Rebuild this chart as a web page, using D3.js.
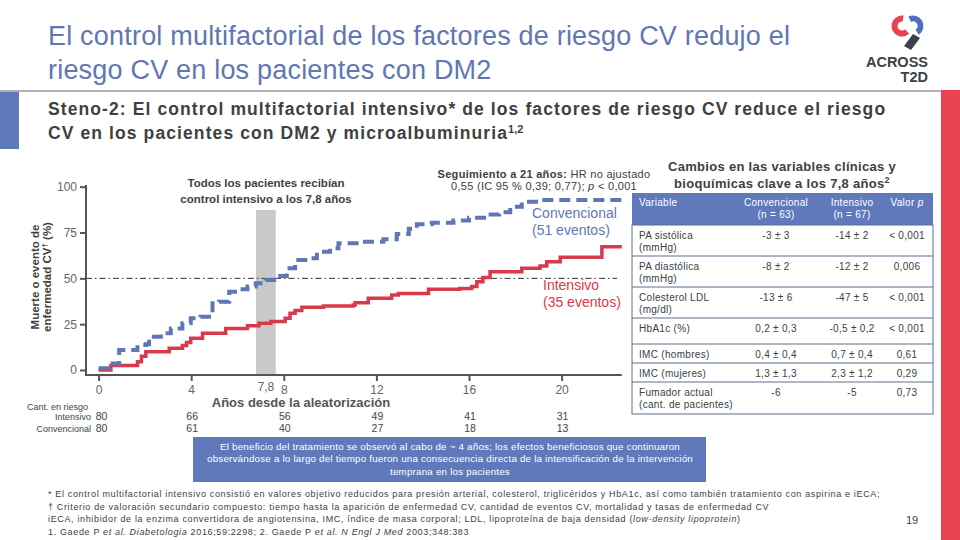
<!DOCTYPE html>
<html>
<head>
<meta charset="utf-8">
<script src="https://cdn.jsdelivr.net/npm/d3@7"></script>
<style>
    body { margin: 0; background: #fff; }
    svg { display: block; font-family: "Liberation Sans", Arial, sans-serif; }
</style>
</head>
<body>
<div id="chart"></div>
<script>
// Kaplan-Meier style step data (years since randomisation, % with event)
const convYears = [0, 0.45, 0.89, 1.68, 2.04, 2.18, 2.69, 3.12, 3.62, 3.98, 4.4, 4.77, 4.92, 5.2, 5.64, 6.0, 6.43, 6.79, 7.22, 7.58, 8.13, 8.49, 9.14, 9.43, 10.0, 10.36, 11.3, 12.3, 12.88, 13.4, 13.75, 14.39, 15.33, 16.0, 16.77, 17.3, 17.78, 18.28, 19.07, 22.6];
const convPct = [0.9, 3.6, 10.9, 13.6, 14, 18.2, 20, 22.7, 25.5, 28.2, 29, 30.9, 36.4, 37.3, 42.7, 44, 45.5, 47.3, 49.1, 51.3, 55.5, 60, 60.9, 64.5, 66.4, 69.1, 70, 71.3, 74.2, 77, 79.5, 80.4, 81.5, 83, 84.9, 86, 89.1, 91.8, 92.7, 92.7];
const intYears = [0, 0.53, 1.68, 1.85, 2.04, 3.05, 3.62, 3.8, 3.98, 4.49, 5.49, 6.43, 6.93, 7.44, 8.06, 8.27, 8.49, 8.78, 9.71, 11.0, 11.08, 11.65, 12.66, 12.95, 14.25, 15.6, 16.12, 16.34, 16.6, 16.91, 18.28, 19.07, 19.36, 19.94, 21.74, 22.6];
const intPct = [0, 2.4, 4.5, 7.5, 10, 11.8, 13.3, 15, 17.3, 20, 22.7, 24.2, 25.5, 26.4, 28.2, 30.9, 32.4, 34.2, 34.9, 35.5, 36.7, 39.1, 40.9, 41.8, 44, 44.5, 45.5, 48.2, 50.5, 53.6, 55.5, 56.7, 59.1, 61.5, 67.3, 67.3];

const xTicks = [0, 4, 8, 12, 16, 20];
const yTicks = [0, 25, 50, 75, 100];
const bandYears = [6.8, 7.65];
const bandLabel = "7,8";

const riskYears = [0, 4, 8, 12, 16, 20];
const riskInt = [80, 66, 56, 49, 41, 31];
const riskConv = [80, 61, 40, 27, 18, 13];

const tableHeads = [["Variable"], ["Convencional", "(n = 63)"], ["Intensivo", "(n = 67)"], ["Valor p"]];
const tableVars = [["PA sistólica", "(mmHg)"], ["PA diastólica", "(mmHg)"], ["Colesterol LDL", "(mg/dl)"], ["HbA1c (%)"], ["IMC (hombres)"], ["IMC (mujeres)"], ["Fumador actual", "(cant. de pacientes)"]];
const tableConv = ["-3 ± 3", "-8 ± 2", "-13 ± 6", "0,2 ± 0,3", "0,4 ± 0,4", "1,3 ± 1,3", "-6"];
const tableInt = ["-14 ± 2", "-12 ± 2", "-47 ± 5", "-0,5 ± 0,2", "0,7 ± 0,4", "2,3 ± 1,2", "-5"];
const tablePval = ["< 0,001", "0,006", "< 0,001", "< 0,001", "0,61", "0,29", "0,73"];

const footnotes = [
    "* El control multifactorial intensivo consistió en valores objetivo reducidos para presión arterial, colesterol, triglicéridos y HbA1c, así como también tratamiento con aspirina e iECA;",
    "† Criterio de valoración secundario compuesto: tiempo hasta la aparición de enfermedad CV, cantidad de eventos CV, mortalidad y tasas de enfermedad CV",
    "iECA, inhibidor de la enzima convertidora de angiotensina, IMC, índice de masa corporal; LDL, lipoproteína de baja densidad (<i>low-density lipoprotein</i>)",
    "1. Gaede P <i>et al. Diabetologia</i> 2016;59:2298; 2. Gaede P <i>et al. N Engl J Med</i> 2003;348:383"
];
const boxLines = [
    "El beneficio del tratamiento se observó al cabo de ~ 4 años; los efectos beneficiosos que continuaron",
    "observándose a lo largo del tiempo fueron una consecuencia directa de la intensificación de la intervención",
    "temprana en los pacientes"
];

const BLUE = "#5f77b6", RED = "#d93a4b", DARK = "#404040", AXIS = "#555";

const svg = d3.select("#chart").append("svg")
    .attr("width", 960)
    .attr("height", 540);

// header
svg.append("rect").attr("x", 941).attr("y", 90).attr("width", 19).attr("height", 450).attr("fill", "#e8434f");
svg.append("rect").attr("x", 0).attr("y", 92).attr("width", 19).attr("height", 57).attr("fill", "#6079bb");
svg.append("line").attr("x1", 0).attr("x2", 941).attr("y1", 91).attr("y2", 91)
    .attr("stroke", "#666").attr("stroke-width", 1);

const title = svg.append("text").attr("fill", "#6077b1")
    .style("font-size", "27px").style("letter-spacing", "0.2px");
title.append("tspan").attr("x", 48).attr("y", 45).text("El control multifactorial de los factores de riesgo CV redujo el");
title.append("tspan").attr("x", 48).attr("y", 79).text("riesgo CV en los pacientes con DM2");

const sub = svg.append("text").attr("fill", DARK)
    .style("font-size", "17.5px").style("font-weight", "bold").style("letter-spacing", "1.1px");
sub.append("tspan").attr("x", 48).attr("y", 115).text("Steno-2: El control multifactorial intensivo* de los factores de riesgo CV reduce el riesgo");
sub.append("tspan").attr("x", 48).attr("y", 139).text("CV en los pacientes con DM2 y microalbuminuria");
sub.append("tspan").attr("dy", -6).style("font-size", "11px").style("letter-spacing", "0px").text("1,2");

// logo
const logo = svg.append("g");
logo.append("path").attr("transform", "translate(902,26)")
    .attr("d", d3.arc().innerRadius(4.5).outerRadius(10.5).startAngle(2.4).endAngle(2 * Math.PI + 0.15)())
    .attr("fill", "#e8434f");
logo.append("path").attr("transform", "translate(913,26)")
    .attr("d", d3.arc().innerRadius(4.5).outerRadius(10.5).startAngle(-0.45).endAngle(2.55)())
    .attr("fill", "#4f6fc0");
logo.append("path").attr("d", "M913,34 L920,38 L911,50 L904,46 Z").attr("fill", "#3d4148");
logo.append("text").attr("x", 928).attr("y", 67).attr("text-anchor", "end")
    .attr("fill", "#3d4148").style("font-size", "14.5px").style("font-weight", "bold").text("ACROSS");
logo.append("text").attr("x", 928).attr("y", 82).attr("text-anchor", "end")
    .attr("fill", "#3d4148").style("font-size", "14.5px").style("font-weight", "bold").text("T2D");

// chart
const x = d3.scaleLinear().domain([0, 20]).range([98.6, 561.6]);
const y = d3.scaleLinear().domain([0, 100]).range([370, 186.7]);
const axisY = 375, axisX = 86;

svg.append("rect")
    .attr("x", x(bandYears[0])).attr("y", 210)
    .attr("width", x(bandYears[1]) - x(bandYears[0])).attr("height", axisY - 210)
    .attr("fill", "#c9c9c9");

svg.append("line")
    .attr("x1", axisX).attr("x2", x(22.4))
    .attr("y1", y(50)).attr("y2", y(50))
    .attr("stroke", "#333").attr("stroke-width", 1)
    .attr("stroke-dasharray", "6,3,1.5,3");

const yAxis = svg.append("g")
    .attr("transform", `translate(${axisX},0)`)
    .call(d3.axisLeft(y).tickValues(yTicks).tickSize(6).tickPadding(3));
const xAxis = svg.append("g")
    .attr("transform", `translate(0,${axisY})`)
    .call(d3.axisBottom(x).tickValues(xTicks).tickSize(6).tickPadding(4));
[yAxis, xAxis].forEach(g => {
    g.select(".domain").remove();
    g.selectAll("line").attr("stroke", AXIS).attr("stroke-width", 2);
    g.selectAll("text").attr("fill", "#666").style("font-size", "12px").style("font-family", "inherit");
});
svg.append("line").attr("x1", axisX).attr("x2", axisX).attr("y1", 185).attr("y2", axisY + 1)
    .attr("stroke", AXIS).attr("stroke-width", 2);
svg.append("line").attr("x1", axisX - 1).attr("x2", x(22.6)).attr("y1", axisY).attr("y2", axisY)
    .attr("stroke", AXIS).attr("stroke-width", 2);

svg.append("text")
    .attr("x", x((bandYears[0] + bandYears[1]) / 2)).attr("y", 391)
    .attr("text-anchor", "middle").attr("fill", "#666").style("font-size", "12px")
    .text(bandLabel);

const line = d3.line().curve(d3.curveStepAfter).x(d => x(d[0])).y(d => y(d[1]));

svg.append("path")
    .datum(intYears.map((t, i) => [t, intPct[i]]))
    .attr("d", line)
    .attr("fill", "none").attr("stroke", RED).attr("stroke-width", 3.5);

svg.append("path")
    .datum(convYears.map((t, i) => [t, convPct[i]]))
    .attr("d", line)
    .attr("fill", "none").attr("stroke", BLUE).attr("stroke-width", 4)
    .attr("stroke-dasharray", "11,6");

// chart labels
svg.append("text").attr("transform", "translate(39,277) rotate(-90)")
    .attr("text-anchor", "middle").attr("fill", DARK)
    .style("font-size", "11.5px").style("font-weight", "bold")
    .text("Muerte o evento de");
const yl2 = svg.append("text").attr("transform", "translate(51,277) rotate(-90)")
    .attr("text-anchor", "middle").attr("fill", DARK)
    .style("font-size", "11.5px").style("font-weight", "bold");
yl2.append("tspan").text("enfermedad CV");
yl2.append("tspan").attr("dy", -4).style("font-size", "8px").text("†");
yl2.append("tspan").attr("dy", 4).text(" (%)");

const note = svg.append("text").attr("text-anchor", "middle").attr("fill", DARK)
    .style("font-size", "11.5px").style("font-weight", "bold");
note.append("tspan").attr("x", 266).attr("y", 187).text("Todos los pacientes recibían");
note.append("tspan").attr("x", 266).attr("y", 203).text("control intensivo a los 7,8 años");

const hr = svg.append("text").attr("text-anchor", "middle").attr("fill", DARK)
    .style("font-size", "11px").style("letter-spacing", "0.3px");
const hr1 = hr.append("tspan").attr("x", 544).attr("y", 178);
hr1.append("tspan").style("font-weight", "bold").text("Seguimiento a 21 años:");
hr1.append("tspan").text(" HR no ajustado");
const hr2 = hr.append("tspan").attr("x", 544).attr("y", 190);
hr2.append("tspan").text("0,55 (IC 95 % 0,39; 0,77); ");
hr2.append("tspan").style("font-style", "italic").text("p");
hr2.append("tspan").text(" < 0,001");

const convLab = svg.append("text").attr("fill", BLUE).style("font-size", "14px");
convLab.append("tspan").attr("x", 532).attr("y", 218).text("Convencional");
convLab.append("tspan").attr("x", 532).attr("y", 235).text("(51 eventos)");
const intLab = svg.append("text").attr("fill", RED).style("font-size", "14px");
intLab.append("tspan").attr("x", 543).attr("y", 290).text("Intensivo");
intLab.append("tspan").attr("x", 543).attr("y", 307).text("(35 eventos)");

svg.append("text").attr("x", 301).attr("y", 407).attr("text-anchor", "middle")
    .attr("fill", "#555").style("font-size", "13px").style("font-weight", "bold")
    .text("Años desde la aleatorización");

// numbers at risk
const risk = svg.append("g").attr("fill", "#444").style("font-size", "9px");
risk.append("text").attr("x", 27).attr("y", 410).text("Cant. en riesgo");
risk.append("text").attr("x", 91).attr("y", 420).attr("text-anchor", "end").text("Intensivo");
risk.append("text").attr("x", 91).attr("y", 432).attr("text-anchor", "end").text("Convencional");
risk.selectAll(".ri").data(riskInt).join("text")
    .attr("x", (d, i) => x(riskYears[i]) + (i === 0 ? 3 : 1)).attr("y", 420)
    .attr("text-anchor", "middle").style("font-size", "10.5px").text(d => d);
risk.selectAll(".rc").data(riskConv).join("text")
    .attr("x", (d, i) => x(riskYears[i]) + (i === 0 ? 3 : 1)).attr("y", 432)
    .attr("text-anchor", "middle").style("font-size", "10.5px").text(d => d);

// table
const tt = svg.append("text").attr("text-anchor", "middle").attr("fill", DARK)
    .style("font-size", "13px").style("font-weight", "bold").style("letter-spacing", "0.3px");
tt.append("tspan").attr("x", 782).attr("y", 171).text("Cambios en las variables clínicas y");
const tt2 = tt.append("tspan").attr("x", 782).attr("y", 188);
tt2.append("tspan").text("bioquímicas clave a los 7,8 años");
tt2.append("tspan").attr("dy", -5).style("font-size", "9px").text("2");

const tLeft = 632, tRight = 933, headTop = 193, headBot = 225;
const colX = [639, 776, 852, 907];
const rowH = [31, 31, 31, 26, 19, 19, 32];
const rowTops = [];
rowH.reduce((acc, h) => { rowTops.push(acc); return acc + h; }, headBot);
const tBot = headBot + d3.sum(rowH);

const tbl = svg.append("g").style("font-size", "10px").style("letter-spacing", "0.3px");
tbl.append("rect").attr("x", tLeft).attr("y", headTop).attr("width", tRight - tLeft).attr("height", headBot - headTop)
    .attr("fill", "#6079bb");
tbl.append("rect").attr("x", tLeft).attr("y", headBot).attr("width", tRight - tLeft).attr("height", tBot - headBot)
    .attr("fill", "none").attr("stroke", "#5d6f8c").attr("stroke-width", 1);
tableHeads.forEach((h, i) => {
    const t = tbl.append("text").attr("fill", "#fff")
        .attr("text-anchor", i === 0 ? "start" : "middle");
    h.forEach((s, j) => {
        const ts = t.append("tspan").attr("x", colX[i]).attr("y", headTop + 13 + j * 12);
        if (s === "Valor p") {
            ts.text("Valor ");
            t.append("tspan").style("font-style", "italic").text("p");
        } else ts.text(s);
    });
});
tbl.selectAll(".sep").data(rowTops.slice(1)).join("line")
    .attr("x1", tLeft).attr("x2", tRight).attr("y1", d => d).attr("y2", d => d)
    .attr("stroke", "#5d6f8c").attr("stroke-width", 1);
tableVars.forEach((v, i) => {
    const t = tbl.append("text").attr("fill", DARK);
    v.forEach((s, j) => t.append("tspan").attr("x", colX[0]).attr("y", rowTops[i] + 13.5 + j * 12.5).text(s));
    [tableConv, tableInt, tablePval].forEach((col, k) => {
        tbl.append("text").attr("x", colX[k + 1]).attr("y", rowTops[i] + 13.5)
            .attr("text-anchor", "middle").attr("fill", DARK).text(col[i]);
    });
});

// bottom box
svg.append("rect").attr("x", 193).attr("y", 437).attr("width", 513).attr("height", 45).attr("fill", "#6079bb");
svg.append("g").selectAll("text").data(boxLines).join("text")
    .attr("x", 450).attr("y", (d, i) => 450 + i * 12.3)
    .attr("text-anchor", "middle").attr("fill", "#fff")
    .style("font-size", "9.8px").style("letter-spacing", "0.2px")
    .text(d => d);

// footnotes
const fn = svg.append("g").attr("fill", DARK).style("font-size", "9px").style("letter-spacing", "0.65px");
footnotes.forEach((s, i) => {
    const t = fn.append("text").attr("x", 48).attr("y", 497 + i * 12.7);
    s.split(/(<i>.*?<\/i>)/).filter(p => p).forEach(p => {
        if (p.startsWith("<i>")) t.append("tspan").style("font-style", "italic").text(p.slice(3, -4));
        else t.append("tspan").text(p);
    });
});

svg.append("text").attr("x", 912).attr("y", 524).attr("text-anchor", "middle")
    .attr("fill", DARK).style("font-size", "11px").text("19");
</script>
</body>
</html>
